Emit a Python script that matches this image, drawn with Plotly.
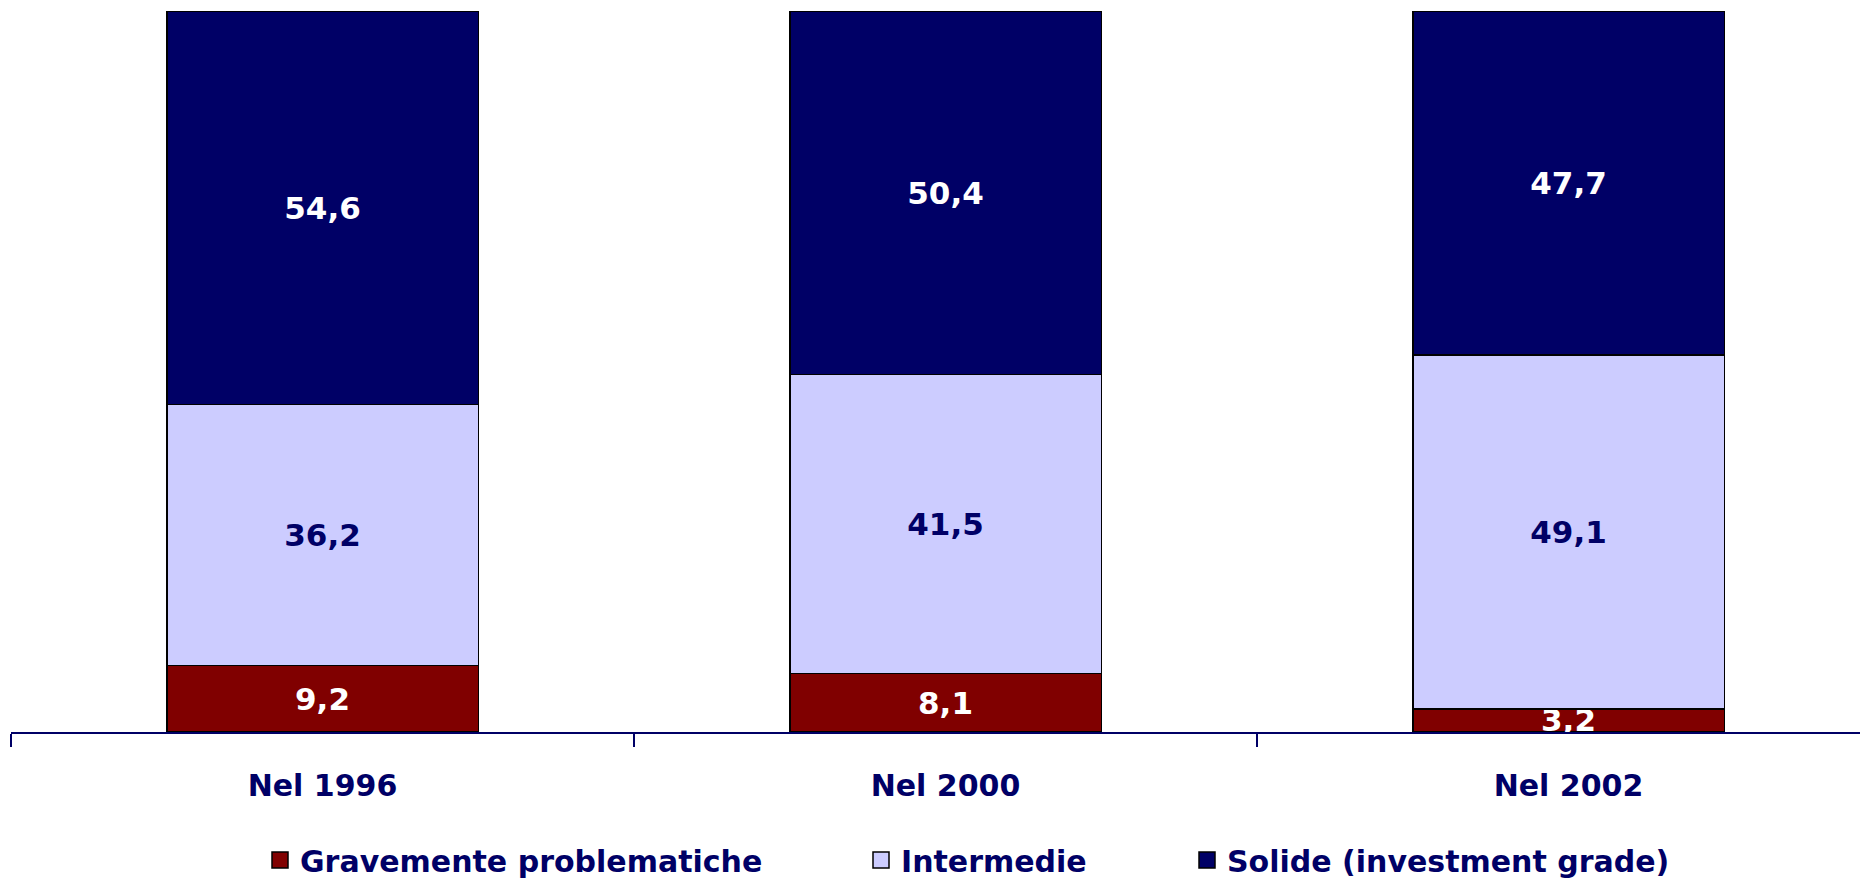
import plotly.graph_objects as go

# categories and stacked shares (%)
anni = ['Nel 1996', 'Nel 2000', 'Nel 2002']
gravi = [9.2, 8.1, 3.2]
intermedie = [36.2, 41.5, 49.1]
solide = [54.6, 50.4, 47.7]

nomi = ['Gravemente problematiche', 'Intermedie', 'Solide (investment grade)']
colori = ['#800000', '#CCCCFF', '#000066']
col_testo = ['white', '#000066', 'white']

# page body adds an 8px margin, so the figure is drawn 8px smaller/shifted
OFF = 8
W, H = 1868 - OFF, 882 - OFF
NAVY = '#000066'
FONT = 'DejaVu Sans'

fig = go.Figure()

for i, (nome, vals) in enumerate(zip(nomi, [gravi, intermedie, solide])):
    fig.add_trace(go.Bar(
        x=anni, y=vals, name=nome,
        marker=dict(color=colori[i], line=dict(color='black', width=1.5)),
        texttemplate='%{y:.1f}', textposition='inside',
        insidetextanchor='middle', textangle=0, constraintext='none',
        textfont=dict(family=FONT, size=31, color=col_testo[i], weight='bold'),
        showlegend=False, hoverinfo='skip',
    ))

# legend entries (square markers), one legend each so they can be placed
leg_x = [260 - OFF, 861 - OFF, 1187 - OFF]
for i, nome in enumerate(nomi):
    lg = 'legend' if i == 0 else 'legend%d' % (i + 1)
    fig.add_trace(go.Scatter(
        x=[None], y=[None], mode='markers', name=nome,
        marker=dict(symbol='square', size=16, color=colori[i],
                    line=dict(color='black', width=1.5)),
        legend=lg, showlegend=True,
    ))

leg_common = dict(
    orientation='h', xref='container', yref='container',
    xanchor='left', yanchor='middle', y=1 - (860 - OFF) / H,
    font=dict(family=FONT, size=30, color=NAVY, weight='bold'),
    bgcolor='rgba(0,0,0,0)', borderwidth=0,
)

# plot area: left edge at x=11 on the page, right edge cut at page border
cat_px = 623
left = 11 - OFF
pw = W - left
fig.update_layout(
    width=W, height=H,
    margin=dict(l=left, r=0, t=11 - OFF, b=H - (732 - OFF)),
    barmode='stack', bargap=0.5,
    separators=',.',
    plot_bgcolor='white', paper_bgcolor='white',
    legend=dict(x=leg_x[0] / W, **leg_common),
    legend2=dict(x=leg_x[1] / W, **leg_common),
    legend3=dict(x=leg_x[2] / W, **leg_common),
    xaxis=dict(
        type='category', range=[-0.5, -0.5 + pw / cat_px],
        tickson='boundaries', ticks='outside', ticklen=13, tickwidth=1.5,
        tickcolor=NAVY, showline=True, linecolor=NAVY, linewidth=2,
        showgrid=False, ticklabelstandoff=26,
        tickfont=dict(family=FONT, size=30, color=NAVY, weight='bold'),
    ),
    yaxis=dict(range=[0, 100], visible=False, showgrid=False),
)

fig.write_html('out.html')
